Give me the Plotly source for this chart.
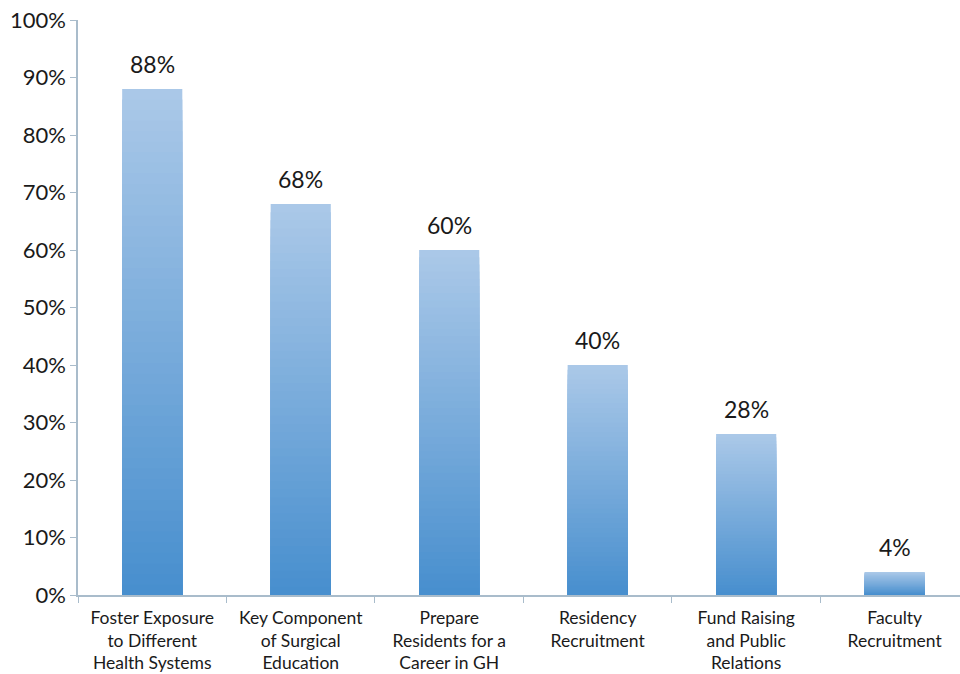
import plotly.graph_objects as go

# Survey responses: reasons for global surgery programs
categories = [
    "Foster Exposure<br>to Different<br>Health Systems",
    "Key Component<br>of Surgical<br>Education",
    "Prepare<br>Residents for a<br>Career in GH",
    "Residency<br>Recruitment",
    "Fund Raising<br>and Public<br>Relations",
    "Faculty<br>Recruitment",
]
values = [88, 68, 60, 40, 28, 4]
value_labels = ["88%", "68%", "60%", "40%", "28%", "4%"]
y_ticks = [0, 10, 20, 30, 40, 50, 60, 70, 80, 90, 100]
y_tick_labels = [f"{t}%" for t in y_ticks]

TOP_RGB = (170, 200, 232)
BOTTOM_RGB = (72, 143, 206)
STEPS = 48
FONT = "Lato, 'Open Sans', sans-serif"


def mix(frac):
    r, g, b = (round(TOP_RGB[i] + (BOTTOM_RGB[i] - TOP_RGB[i]) * frac) for i in range(3))
    return f"rgb({r},{g},{b})"


fig = go.Figure()

# Vertical gradient fill: stacked overlays of shrinking height, light at top, dark at bottom
for k in range(STEPS):
    frac = k / (STEPS - 1)
    heights = [v * (1 - k / STEPS) for v in values]
    fig.add_trace(go.Bar(
        x=categories,
        y=heights,
        width=0.405,
        marker=dict(color=mix(frac), line=dict(width=0)),
        hoverinfo="skip",
        showlegend=False,
    ))

# Value labels above each bar
for cat, val, lab in zip(categories, values, value_labels):
    fig.add_annotation(
        x=cat, y=val, text=lab, showarrow=False,
        yanchor="bottom", yshift=9,
        font=dict(family=FONT, size=23, color="#1a1a1a"),
    )

fig.update_layout(
    width=960,
    height=674,
    barmode="overlay",
    paper_bgcolor="white",
    plot_bgcolor="white",
    margin=dict(l=78, r=0, t=20, b=79),
    font=dict(family=FONT, color="#1a1a1a"),
)

fig.update_xaxes(
    range=[-0.5, 5.44],
    showgrid=False,
    showline=True,
    linecolor="#a9bccb",
    linewidth=1.5,
    ticks="outside",
    tickson="boundaries",
    ticklen=6,
    tickcolor="#a9bccb",
    ticklabelstandoff=6,
    tickfont=dict(family=FONT, size=17.5, color="#1a1a1a"),
    fixedrange=True,
)

fig.update_yaxes(
    range=[0, 100],
    tickvals=y_ticks,
    ticktext=y_tick_labels,
    showgrid=False,
    showline=True,
    linecolor="#a9bccb",
    linewidth=1.5,
    ticks="outside",
    ticklen=6,
    tickcolor="#a9bccb",
    tickfont=dict(family=FONT, size=22, color="#1a1a1a"),
    zeroline=False,
    fixedrange=True,
)

fig.write_html("out.html")
